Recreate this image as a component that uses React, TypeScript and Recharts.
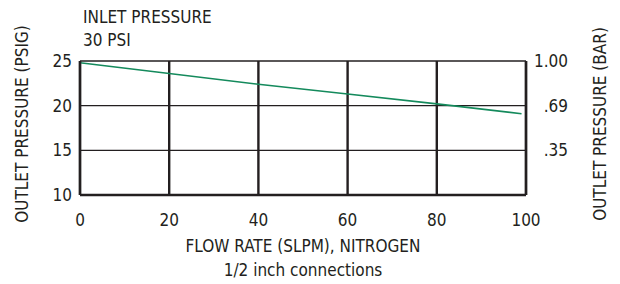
import React from 'react';
import { LineChart, Line, XAxis, YAxis, CartesianGrid, Customized } from 'recharts';

const flowRate = [0, 20, 40, 60, 80, 99];
const outletPsig = [24.8, 23.6, 22.4, 21.3, 20.2, 19.1];
const xTicks = [0, 20, 40, 60, 80, 100];
const psigTicks = [10, 15, 20, 25];
const barTicks = [15, 20, 25];
const barLabels = ['.35', '.69', '1.00'];

const data = flowRate.map((f, i) => ({ flow: f, psig: outletPsig[i] }));

const FONT = '"DejaVu Sans Condensed", "Liberation Sans Narrow", sans-serif';
const INK = '#231f20';

function Labels() {
  return (
    <g fontFamily={FONT} fill={INK}>
      <text x={83} y={23} fontSize={17}>INLET PRESSURE</text>
      <text x={83} y={46} fontSize={17}>30 PSI</text>
      <text x={303} y={252} fontSize={17} textAnchor="middle">FLOW RATE (SLPM), NITROGEN</text>
      <text x={303} y={276} fontSize={17} textAnchor="middle">1/2 inch connections</text>
      <text x={0} y={0} fontSize={17} textAnchor="middle" transform="translate(28,124) rotate(-90)">
        OUTLET PRESSURE (PSIG)
      </text>
      <text x={0} y={0} fontSize={17} textAnchor="middle" transform="translate(606,124) rotate(-90)">
        OUTLET PRESSURE (BAR)
      </text>
    </g>
  );
}

export default function App() {
  return (
    <div style={{ position: 'absolute', left: 0, top: 0, width: 620, height: 284, background: '#fff' }}>
      <LineChart width={620} height={284} data={data} margin={{ top: 61, right: 44, bottom: 59, left: 50 }}>
        <CartesianGrid yAxisId="psig" vertical={false} stroke={INK} strokeWidth={1.4} />
        <CartesianGrid yAxisId="psig" horizontal={false} stroke={INK} strokeWidth={2.4} />
        <XAxis
          dataKey="flow"
          type="number"
          domain={[0, 100]}
          ticks={xTicks}
          interval={0}
          height={30}
          tickLine={false}
          tickSize={0}
          tickMargin={19}
          axisLine={{ stroke: INK, strokeWidth: 2.4 }}
          tick={{ fontSize: 17, fill: INK, fontFamily: FONT }}
        />
        <YAxis
          yAxisId="psig"
          type="number"
          domain={[10, 25]}
          ticks={psigTicks}
          interval={0}
          width={30}
          tickLine={false}
          tickSize={0}
          tickMargin={8}
          axisLine={{ stroke: INK, strokeWidth: 2.4 }}
          tick={{ fontSize: 17, fill: INK, fontFamily: FONT }}
        />
        <YAxis
          yAxisId="bar"
          orientation="right"
          type="number"
          domain={[10, 25]}
          ticks={barTicks}
          interval={0}
          width={50}
          tickLine={false}
          tickSize={0}
          tickMargin={42}
          axisLine={{ stroke: INK, strokeWidth: 2.4 }}
          tickFormatter={(v: number) => barLabels[barTicks.indexOf(v)]}
          tick={{ fontSize: 17, fill: INK, fontFamily: FONT, textAnchor: 'end' }}
        />
        {/* same curve on the bar axis, invisible, so that axis gets its ticks */}
        <Line
          yAxisId="bar"
          type="linear"
          dataKey="psig"
          stroke="none"
          dot={false}
          activeDot={false}
          isAnimationActive={false}
        />
        <Line
          yAxisId="psig"
          type="linear"
          dataKey="psig"
          stroke="#148a5c"
          strokeWidth={1.6}
          dot={false}
          isAnimationActive={false}
        />
        <Customized component={Labels} />
      </LineChart>
    </div>
  );
}
